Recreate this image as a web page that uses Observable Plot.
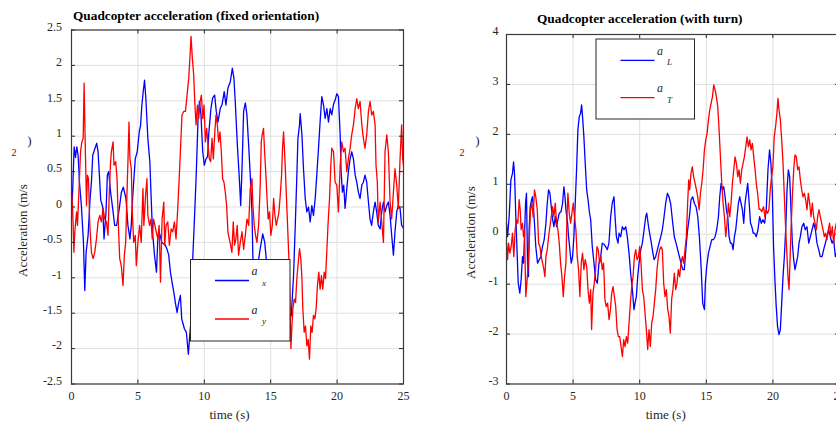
<!DOCTYPE html>
<html>
<head>
<meta charset="utf-8">
<script src="https://cdn.jsdelivr.net/npm/d3@7"></script>
<script src="https://cdn.jsdelivr.net/npm/@observablehq/plot@0.6"></script>
<style>
  html, body { margin: 0; padding: 0; background: #fff; }
  #wrap { position: relative; width: 836px; height: 423px; overflow: hidden; background: #fff; }
  #wrap svg { position: absolute; top: 0; overflow: visible; }
</style>
</head>
<body>
<div id="wrap"></div>
<script>
// ---------- Data (time s, acceleration m/s^2) ----------
const titles = ["Quadcopter acceleration (fixed orientation)", "Quadcopter acceleration (with turn)"];
const xLabel = "time (s)";
const yLabel = "Acceleration (m/s";
const xTicks = [0, 5, 10, 15, 20, 25];
const yTicksLeft = [-2.5, -2, -1.5, -1, -0.5, 0, 0.5, 1, 1.5, 2, 2.5];
const yTicksRight = [-3, -2, -1, 0, 1, 2, 3, 4];
const legendLeft = [{name: "a", sub: "x", color: "#0000ff"}, {name: "a", sub: "y", color: "#ff0000"}];
const legendRight = [{name: "a", sub: "L", color: "#0000ff"}, {name: "a", sub: "T", color: "#ff0000"}];

const ax = [[0,-0.17],[0.1,0.3],[0.2,0.85],[0.3,0.7],[0.4,0.85],[0.5,0.72],[0.6,0.35],[0.75,0],[0.9,-0.5],[1.0,-1.18],[1.1,-0.64],[1.25,-0.4],[1.4,0.12],[1.5,0.35],[1.6,0.73],[1.75,0.82],[1.9,0.9],[2.0,0.78],[2.1,0.45],[2.2,0.1],[2.35,0],[2.45,-0.45],[2.6,-0.07],[2.7,0.45],[2.8,0.5],[2.95,0.2],[3.1,-0.02],[3.25,-0.26],[3.4,-0.26],[3.6,-0.02],[3.75,0.2],[3.9,0.28],[4.1,0.12],[4.25,-0.26],[4.4,-0.45],[4.5,-0.26],[4.6,0.12],[4.8,0.68],[4.95,0.78],[5.1,1.06],[5.2,1.15],[5.3,1.44],[5.4,1.63],[5.5,1.79],[5.6,1.53],[5.75,0.97],[5.9,0.64],[6.0,0.12],[6.1,-0.35],[6.25,-0.68],[6.4,-0.92],[6.5,-0.45],[6.6,-0.35],[6.8,-0.5],[7.07,-0.54],[7.2,-0.6],[7.32,-0.68],[7.45,-0.92],[7.57,-1.06],[7.7,-1.2],[7.82,-1.35],[7.95,-1.49],[8.07,-1.35],[8.2,-1.25],[8.3,-1.58],[8.5,-1.72],[8.65,-1.77],[8.8,-2.08],[8.9,-1.82],[9.0,-1.6],[9.13,-0.73],[9.28,-0.07],[9.4,0.5],[9.53,1.25],[9.63,1.49],[9.75,1.3],[9.88,0.78],[10.0,0.59],[10.13,0.68],[10.25,0.71],[10.33,1.02],[10.5,1.39],[10.63,1.54],[10.78,1.58],[10.9,1.35],[11.03,1.2],[11.2,1.39],[11.33,1.44],[11.5,1.63],[11.63,1.44],[11.78,1.68],[11.96,1.77],[12.11,1.96],[12.23,1.82],[12.33,1.49],[12.49,0.87],[12.64,0.4],[12.74,0.02],[12.84,0.54],[12.96,1.35],[13.09,1.47],[13.21,1.3],[13.34,0.87],[13.46,0.45],[13.59,-0.07],[13.66,-0.73],[13.8,-1.0],[14.0,-0.85],[14.2,-0.6],[14.4,-0.38],[14.55,-0.5],[14.7,-0.8],[15.0,-1.2],[15.5,-1.5],[16.0,-1.7],[16.4,-1.6],[16.55,-1.53],[16.65,-1.2],[16.72,-0.97],[16.85,-0.26],[16.97,0.45],[17.05,0.97],[17.17,1.16],[17.22,1.32],[17.35,1.02],[17.47,0.54],[17.6,0.12],[17.72,-0.07],[17.85,0],[17.97,-0.21],[18.1,0.02],[18.22,-0.12],[18.35,0.12],[18.47,0.45],[18.6,0.83],[18.72,1.2],[18.85,1.56],[18.98,1.44],[19.1,1.25],[19.23,1.39],[19.35,1.2],[19.48,1.39],[19.6,1.3],[19.73,1.45],[19.85,1.51],[19.98,1.6],[20.1,1.56],[20.23,1.02],[20.3,0.5],[20.4,0.21],[20.5,0.31],[20.6,-0.02],[20.73,0.26],[20.85,0.5],[20.98,0.68],[21.1,0.78],[21.23,0.68],[21.36,0.45],[21.48,0.35],[21.6,0.21],[21.73,0.12],[21.86,0.31],[21.98,0.35],[22.1,0.45],[22.23,0.35],[22.36,0.07],[22.48,-0.17],[22.6,-0.26],[22.73,-0.07],[22.86,0.07],[22.98,-0.07],[23.1,-0.26],[23.24,-0.31],[23.36,-0.07],[23.49,0.07],[23.61,-0.07],[23.74,0.02],[23.86,0.07],[23.99,-0.12],[24.11,-0.4],[24.24,-0.68],[24.36,-0.35],[24.49,-0.07],[24.61,0.02],[24.74,-0.02],[24.86,-0.26],[25,-0.3]];

const ay = [[0,0.21],[0.08,0.02],[0.18,-0.64],[0.25,-0.35],[0.38,-0.07],[0.45,-0.26],[0.58,0.31],[0.68,0.78],[0.78,0.92],[0.88,0.97],[0.95,1.75],[1.03,0.92],[1.13,0.02],[1.2,0.45],[1.28,0.4],[1.38,-0.26],[1.5,-0.64],[1.63,-0.73],[1.75,-0.64],[1.88,-0.45],[2.0,-0.21],[2.13,-0.12],[2.25,-0.21],[2.38,-0.02],[2.5,-0.17],[2.63,-0.21],[2.75,-0.4],[2.83,0.12],[2.93,0.59],[3.0,0.78],[3.13,0.92],[3.2,0.59],[3.33,0.64],[3.43,0.4],[3.53,-0.26],[3.63,-0.73],[3.75,-0.83],[3.88,-1.11],[3.98,-0.68],[4.08,-0.5],[4.18,0.21],[4.25,0.64],[4.33,1.2],[4.4,0.68],[4.5,0.54],[4.58,-0.07],[4.68,-0.5],[4.8,-0.4],[4.88,-0.83],[5.0,-0.5],[5.13,-0.26],[5.25,-0.5],[5.38,0.26],[5.45,-0.26],[5.58,0.17],[5.68,0.4],[5.75,-0.12],[5.88,-0.26],[5.98,-0.17],[6.08,-0.45],[6.18,-0.17],[6.28,-0.26],[6.38,-0.35],[6.5,-0.45],[6.6,-0.26],[6.7,-1.06],[6.82,-0.17],[6.95,0.07],[7.02,-0.54],[7.12,-0.26],[7.25,-0.21],[7.37,-0.54],[7.5,-0.31],[7.62,-0.35],[7.75,-0.21],[7.87,-0.45],[8.0,-0.02],[8.12,0.45],[8.22,0.87],[8.32,1.3],[8.45,1.35],[8.58,1.35],[8.7,1.58],[8.83,1.82],[8.93,2.15],[9.0,2.41],[9.1,2.1],[9.2,1.87],[9.28,1.49],[9.38,1.16],[9.48,1.44],[9.58,1.25],[9.68,1.49],[9.78,1.58],[9.88,1.25],[9.98,1.44],[10.08,0.92],[10.18,1.11],[10.28,0.87],[10.38,0.68],[10.48,0.64],[10.58,0.97],[10.68,0.68],[10.78,1.02],[10.88,1.3],[10.98,1.16],[11.08,0.92],[11.18,1.06],[11.28,0.78],[11.38,0.4],[11.48,0.35],[11.58,0.21],[11.68,0.02],[11.78,-0.35],[11.88,-0.45],[11.98,-0.54],[12.08,-0.64],[12.18,-0.21],[12.28,-0.54],[12.38,-0.45],[12.48,-0.26],[12.58,-0.68],[12.71,-0.5],[12.84,-0.35],[12.96,-0.6],[13.09,-0.4],[13.21,-0.17],[13.34,-0.26],[13.46,0.26],[13.59,0.4],[13.66,0.02],[13.76,-0.26],[13.86,-0.4],[13.96,-0.5],[14.09,-0.26],[14.21,0.31],[14.29,0.92],[14.36,1.02],[14.46,1.11],[14.54,0.78],[14.64,0.45],[14.71,0.17],[14.81,-0.17],[14.91,-0.07],[15.01,-0.4],[15.12,-0.26],[15.22,0.12],[15.32,-0.12],[15.42,-0.26],[15.52,-0.17],[15.62,-0.07],[15.72,0.17],[15.82,0.45],[15.89,0.83],[15.97,1.06],[16.07,0.68],[16.17,0.21],[16.27,-0.26],[16.37,-0.73],[16.45,-1.3],[16.52,-2.0],[16.6,-1.68],[16.67,-1.44],[16.77,-1.3],[16.87,-1.35],[16.97,-1.01],[17.1,-0.73],[17.17,-0.59],[17.27,-0.73],[17.35,-1.01],[17.42,-1.44],[17.52,-1.77],[17.62,-1.68],[17.72,-1.96],[17.82,-1.87],[17.92,-2.15],[18.02,-1.68],[18.12,-1.77],[18.22,-1.53],[18.32,-1.58],[18.42,-1.44],[18.52,-1.11],[18.62,-0.92],[18.72,-1.16],[18.82,-0.97],[18.92,-1.16],[19.03,-0.92],[19.13,-1.01],[19.23,-0.6],[19.33,-0.2],[19.43,0.12],[19.53,0.6],[19.6,0.83],[19.73,0.78],[19.85,0.35],[19.98,0.31],[20.1,-0.07],[20.23,0.59],[20.35,0.92],[20.48,0.78],[20.6,0.83],[20.73,0.5],[20.85,0.68],[20.98,0.83],[21.1,1.02],[21.23,1.16],[21.36,1.39],[21.48,1.53],[21.6,1.39],[21.73,1.49],[21.86,1.16],[21.98,0.97],[22.1,0.83],[22.23,1.02],[22.36,1.35],[22.48,1.49],[22.61,1.3],[22.73,1.35],[22.86,1.16],[22.93,0.59],[23.03,0.35],[23.1,-0.21],[23.24,0.07],[23.36,-0.21],[23.49,-0.5],[23.61,0.78],[23.74,1.02],[23.86,0.78],[23.99,0.07],[24.11,-0.17],[24.24,0.21],[24.36,0.54],[24.49,0.31],[24.61,-0.02],[24.74,0.68],[24.86,1.16],[24.94,0.68],[25,0.59]];

const aL = [[0,0.22],[0.08,-0.05],[0.2,0.35],[0.33,1.09],[0.45,1.22],[0.53,1.45],[0.6,1.22],[0.7,0.35],[0.78,-0.25],[0.88,-0.98],[1.0,-1.18],[1.1,-0.91],[1.2,-0.45],[1.28,-0.58],[1.35,-0.05],[1.43,0.62],[1.5,0.82],[1.58,-0.58],[1.65,-0.85],[1.7,0.09],[1.78,0.55],[1.88,0.69],[1.95,0.75],[2.03,0.49],[2.1,0.22],[2.2,-0.25],[2.33,-0.58],[2.46,-0.51],[2.58,-0.45],[2.7,-0.25],[2.83,-0.11],[2.96,0.22],[3.06,0.62],[3.16,0.89],[3.26,0.82],[3.36,0.55],[3.46,0.29],[3.56,0.15],[3.66,0.35],[3.76,0.15],[3.86,0.29],[3.96,0.42],[4.09,0.45],[4.21,0.62],[4.31,0.95],[4.39,0.75],[4.46,0.49],[4.59,0.22],[4.66,-0.05],[4.76,-0.31],[4.86,-0.58],[4.96,-0.45],[5.06,-0.05],[5.16,0.62],[5.26,1.29],[5.36,2.09],[5.46,2.35],[5.56,2.42],[5.64,2.59],[5.71,2.35],[5.81,1.95],[5.91,1.42],[6.02,0.89],[6.12,0.69],[6.22,0.45],[6.32,0.29],[6.44,-0.25],[6.57,-0.58],[6.69,-0.91],[6.82,-0.98],[6.94,-0.58],[7.07,-0.45],[7.19,-0.18],[7.32,-0.2],[7.44,-0.25],[7.57,-0.31],[7.69,-0.18],[7.82,0.35],[7.94,0.62],[8.07,0.75],[8.15,0.35],[8.25,-0.05],[8.37,-0.18],[8.45,0.02],[8.57,-0.05],[8.7,0.15],[8.82,0.09],[8.95,0.15],[9.07,-0.05],[9.2,-0.38],[9.32,-0.78],[9.45,-1.11],[9.57,-1.51],[9.65,-1.38],[9.75,-1.25],[9.85,-0.85],[9.95,-0.58],[10.08,-0.31],[10.2,-0.18],[10.33,0.09],[10.45,0.35],[10.53,0.42],[10.63,0.22],[10.7,0.09],[10.83,-0.11],[10.95,-0.31],[11.08,-0.51],[11.2,-0.45],[11.33,-0.31],[11.45,-0.18],[11.58,-0.05],[11.7,0.09],[11.83,0.35],[11.95,0.62],[12.08,0.82],[12.2,0.75],[12.33,0.6],[12.48,0.22],[12.6,-0.05],[12.73,-0.18],[12.85,-0.31],[12.98,-0.45],[13.1,-0.58],[13.23,-0.71],[13.35,-0.71],[13.48,-0.25],[13.6,0.09],[13.73,0.35],[13.85,0.69],[13.98,0.75],[14.1,0.62],[14.23,0.55],[14.36,0.35],[14.48,-0.05],[14.61,-0.65],[14.73,-1.38],[14.86,-1.51],[14.93,-0.98],[15.03,-0.65],[15.16,-0.38],[15.28,-0.25],[15.41,-0.11],[15.53,-0.11],[15.66,-0.05],[15.78,0.09],[15.91,0.35],[16.01,0.75],[16.11,1.02],[16.21,0.89],[16.31,0.95],[16.41,0.75],[16.51,0.49],[16.61,0.35],[16.71,-0.05],[16.81,-0.18],[16.91,-0.18],[17.01,-0.31],[17.11,-0.05],[17.21,0.09],[17.31,0.35],[17.41,0.62],[17.51,0.75],[17.61,0.62],[17.71,0.49],[17.81,0.22],[17.91,0.62],[18.01,0.82],[18.11,1.02],[18.22,0.62],[18.32,0.22],[18.42,0.15],[18.52,0.02],[18.63,0.02],[18.75,-0.05],[18.88,0.09],[19.0,0.35],[19.13,0.22],[19.25,0.29],[19.38,0.22],[19.5,0.49],[19.63,1.29],[19.75,1.69],[19.85,1.42],[19.95,0.89],[20.05,-0.25],[20.15,-0.91],[20.25,-1.45],[20.35,-1.85],[20.46,-2.01],[20.56,-1.91],[20.66,-1.38],[20.76,-0.85],[20.86,-0.45],[20.96,0.09],[21.06,0.89],[21.16,1.29],[21.26,1.15],[21.36,0.49],[21.46,-0.18],[21.56,-0.51],[21.66,-0.71],[21.76,-0.58],[21.86,-0.45],[21.96,-0.18],[22.06,-0.05],[22.18,0.15],[22.31,0.22],[22.43,0.09],[22.56,0.15],[22.69,-0.18],[22.81,-0.05],[22.94,0.09],[23.06,0.22],[23.19,0.09],[23.31,-0.18],[23.44,-0.31],[23.56,-0.45],[23.69,-0.45],[23.81,-0.31],[23.94,-0.18],[24.06,-0.05],[24.19,0.09],[24.31,-0.05],[24.44,-0.18],[24.56,-0.11],[24.69,-0.45],[24.8,-0.35],[25,-0.3]];

const aT = [[0,-0.18],[0.08,-0.51],[0.15,-0.18],[0.25,-0.38],[0.35,-0.25],[0.45,0.02],[0.55,-0.45],[0.65,0.09],[0.75,0.29],[0.85,0.22],[0.95,0.69],[1.03,0.49],[1.1,0.09],[1.2,0.22],[1.28,-0.05],[1.35,0.09],[1.45,-1.25],[1.53,-0.98],[1.6,-0.71],[1.7,-0.18],[1.8,0.49],[1.9,0.62],[2.0,0.35],[2.1,0.89],[2.2,0.75],[2.31,0.49],[2.41,-0.18],[2.51,-0.25],[2.61,-0.45],[2.71,-0.58],[2.81,-0.71],[2.88,-0.85],[2.96,-0.45],[3.06,-0.31],[3.16,-0.05],[3.26,0.15],[3.36,0.35],[3.46,0.55],[3.56,0.35],[3.66,0.62],[3.76,0.22],[3.86,0.09],[3.96,-0.18],[4.06,-0.58],[4.16,-0.85],[4.26,-1.25],[4.36,-0.85],[4.46,-0.58],[4.54,0.35],[4.61,0.82],[4.71,0.42],[4.81,0.22],[4.91,0.42],[5.01,0.62],[5.11,0.35],[5.21,0.09],[5.31,-0.45],[5.41,-0.71],[5.51,-1.25],[5.61,-0.58],[5.71,-0.38],[5.81,-0.71],[5.91,-0.51],[6.02,-0.65],[6.12,-1.11],[6.22,-1.38],[6.32,-1.11],[6.39,-1.91],[6.49,-1.18],[6.59,-0.98],[6.69,-0.71],[6.79,-0.25],[6.89,-0.31],[6.99,-0.58],[7.09,-0.45],[7.19,-0.71],[7.29,-0.58],[7.39,-1.31],[7.49,-1.45],[7.59,-1.38],[7.7,-1.71],[7.8,-1.51],[7.9,-1.18],[8.0,-1.05],[8.1,-1.25],[8.2,-1.45],[8.3,-1.91],[8.4,-2.05],[8.5,-2.05],[8.6,-2.25],[8.7,-2.45],[8.8,-2.11],[8.9,-2.25],[9.0,-2.05],[9.1,-2.18],[9.2,-1.78],[9.3,-1.38],[9.4,-1.05],[9.5,-0.85],[9.6,-0.45],[9.7,-0.31],[9.8,-0.51],[9.9,-0.45],[10.0,-0.25],[10.1,-0.58],[10.2,-1.11],[10.3,-1.25],[10.4,-1.58],[10.5,-1.91],[10.6,-2.31],[10.7,-1.91],[10.8,-2.25],[10.9,-1.78],[11.0,-1.65],[11.1,-1.38],[11.2,-1.11],[11.3,-0.71],[11.4,-0.45],[11.5,-0.31],[11.6,-0.25],[11.7,-0.31],[11.8,-0.98],[11.9,-1.25],[12.0,-1.11],[12.1,-1.5],[12.2,-1.65],[12.3,-1.98],[12.4,-1.3],[12.5,-1.1],[12.6,-0.78],[12.7,-1.11],[12.8,-0.98],[12.9,-0.71],[13.0,-0.85],[13.1,-0.58],[13.2,-0.45],[13.3,-0.58],[13.4,-0.31],[13.5,-0.05],[13.6,0.62],[13.68,1.09],[13.75,0.89],[13.85,1.22],[13.95,1.35],[14.05,1.15],[14.16,1.02],[14.26,0.89],[14.36,0.75],[14.46,0.49],[14.56,0.82],[14.66,1.02],[14.76,1.29],[14.86,1.69],[14.96,1.89],[15.06,2.02],[15.16,2.29],[15.26,2.49],[15.36,2.62],[15.46,2.75],[15.56,2.99],[15.66,2.89],[15.76,2.75],[15.86,2.55],[15.96,2.09],[16.06,1.55],[16.16,1.02],[16.26,0.62],[16.36,0.35],[16.46,-0.05],[16.56,0.22],[16.66,0.62],[16.76,0.35],[16.86,0.62],[16.96,1.02],[17.06,1.29],[17.16,1.55],[17.26,1.42],[17.36,1.15],[17.46,1.29],[17.56,1.02],[17.66,1.29],[17.76,1.42],[17.86,1.55],[17.96,1.75],[18.06,1.95],[18.16,1.75],[18.26,1.89],[18.36,1.69],[18.46,1.82],[18.56,1.55],[18.66,1.3],[18.76,1.0],[18.86,0.8],[18.96,0.5],[19.06,0.5],[19.16,0.45],[19.3,0.55],[19.4,0.35],[19.5,0.49],[19.6,0.42],[19.7,0.49],[19.8,0.89],[19.9,1.15],[20.0,1.35],[20.1,1.95],[20.2,2.15],[20.3,2.42],[20.38,2.72],[20.46,2.49],[20.56,2.29],[20.66,1.89],[20.76,1.42],[20.86,0.75],[20.96,0.09],[21.06,-0.45],[21.13,-0.85],[21.21,-1.11],[21.28,-0.58],[21.36,0.09],[21.46,0.75],[21.56,1.29],[21.66,1.59],[21.76,1.55],[21.86,1.29],[21.96,1.35],[22.06,1.09],[22.16,0.89],[22.26,0.75],[22.36,0.82],[22.46,0.69],[22.56,0.49],[22.66,0.82],[22.76,0.62],[22.86,0.35],[22.96,0.62],[23.06,0.35],[23.16,0.22],[23.26,0.09],[23.36,0.35],[23.46,0.49],[23.56,0.35],[23.66,0.22],[23.76,0.09],[23.86,-0.05],[23.96,0.02],[24.06,-0.11],[24.16,0.09],[24.26,0.22],[24.36,-0.05],[24.46,0.15],[24.56,-0.18],[24.66,0.09],[24.76,0.22],[25,0.1]];

// ---------- Rendering ----------
const FONT = "'Liberation Serif', 'Times New Roman', serif";
const INK = "#262626";
const toRows = (arr) => arr.map(([t, v]) => ({t, v}));

function panel(cfg) {
  const W = cfg.width, H = 423;
  const innerH = H - cfg.mt - cfg.mb;
  const innerW = W - cfg.ml - cfg.mr;
  const svg = Plot.plot({
    width: W, height: H,
    marginLeft: cfg.ml, marginRight: cfg.mr, marginTop: cfg.mt, marginBottom: cfg.mb,
    style: {fontFamily: FONT, fontSize: "12px", color: INK, background: "transparent", overflow: "visible"},
    x: {domain: [0, 25]},
    y: {domain: cfg.yDomain},
    marks: [
      Plot.ruleX(xTicks, {x: d => d, stroke: "#dfdfdf", strokeWidth: 1}),
      Plot.ruleY(cfg.yTicks, {y: d => d, stroke: "#dfdfdf", strokeWidth: 1}),
      Plot.line(toRows(cfg.s1), {x: "t", y: "v", stroke: "#0000ff", strokeWidth: 1.3}),
      Plot.line(toRows(cfg.s2), {x: "t", y: "v", stroke: "#ff0000", strokeWidth: 1.3}),
      Plot.tickX(xTicks, {x: d => d, stroke: INK, insetTop: innerH - 4}),
      Plot.tickX(xTicks, {x: d => d, stroke: INK, insetBottom: innerH - 4}),
      Plot.tickY(cfg.yTicks, {y: d => d, stroke: INK, insetRight: innerW - 4}),
      Plot.tickY(cfg.yTicks, {y: d => d, stroke: INK, insetLeft: innerW - 4}),
      Plot.frame({stroke: "#3a3a3a", strokeWidth: 1.2}),
      Plot.axisX(xTicks, {tickSize: 0, tickPadding: 7, label: null, tickFormat: d => String(d), fontSize: 12}),
      Plot.axisY(cfg.yTicks, {tickSize: 0, tickPadding: cfg.ypad, dy: -3, label: null, tickFormat: d => String(d), fontSize: 12})
    ]
  });
  svg.style.left = cfg.left + "px";
  const s = d3.select(svg);
  // title
  s.append("text").attr("x", cfg.titleX).attr("y", cfg.titleY).attr("text-anchor", "start")
    .attr("font-family", FONT).attr("font-size", 13.3).attr("font-weight", "bold").attr("fill", "#000")
    .text(cfg.title);
  // x label
  s.append("text").attr("x", cfg.xlabX).attr("y", 418.5).attr("text-anchor", "middle")
    .attr("font-family", FONT).attr("font-size", 13).attr("fill", INK).text(xLabel);
  // y label (rotated main part, superscript and closing paren)
  s.append("text").attr("transform", `translate(${cfg.ylabX},${cfg.ylabY}) rotate(-90)`).attr("text-anchor", "start")
    .attr("font-family", FONT).attr("font-size", 13).attr("fill", INK).text(yLabel);
  s.append("text").attr("x", cfg.ylabX - 13).attr("y", 156).attr("text-anchor", "middle")
    .attr("font-family", FONT).attr("font-size", 10).attr("fill", INK).text("2");
  s.append("text").attr("x", cfg.ylabX + 2.5).attr("y", 145).attr("text-anchor", "middle")
    .attr("font-family", FONT).attr("font-size", 13).attr("fill", INK).text(")");
  // legend
  const L = cfg.legend;
  const g = s.append("g");
  g.append("rect").attr("x", L.x).attr("y", L.y).attr("width", L.w).attr("height", L.h)
    .attr("fill", "#fff").attr("stroke", "#262626").attr("stroke-width", 1);
  cfg.legendItems.forEach((it, i) => {
    const ly = L.y + L.row0 + i * L.step;
    g.append("line").attr("x1", L.x + 24.5).attr("x2", L.x + 58.5).attr("y1", ly).attr("y2", ly)
      .attr("stroke", it.color).attr("stroke-width", 1.3);
    g.append("text").attr("x", L.x + 64).attr("y", ly - 5.5).attr("text-anchor", "middle")
      .attr("font-family", FONT).attr("font-style", "italic").attr("font-size", 12).attr("fill", INK).text(it.name);
    g.append("text").attr("x", L.x + 73.5).attr("y", ly + 5).attr("text-anchor", "middle")
      .attr("font-family", FONT).attr("font-style", "italic").attr("font-size", 9).attr("fill", INK).text(it.sub);
  });
  document.getElementById("wrap").appendChild(svg);
}

panel({
  left: 0, width: 420, ml: 71, mr: 17, mt: 29.5, mb: 39.5, ypad: 9.5,
  yDomain: [-2.5, 2.5], yTicks: yTicksLeft, s1: ax, s2: ay,
  title: titles[0], titleX: 73, titleY: 19.5, xlabX: 229.5, ylabX: 27, ylabY: 277,
  legend: {x: 190.5, y: 259.5, w: 99.5, h: 81.5, row0: 21, step: 38.5},
  legendItems: legendLeft
});
panel({
  left: 420, width: 420, ml: 86, mr: 1, mt: 34, mb: 39.5, ypad: 8,
  yDomain: [-3, 4], yTicks: yTicksRight, s1: aL, s2: aT,
  title: titles[1], titleX: 117, titleY: 22.5, xlabX: 245.7, ylabX: 55, ylabY: 279,
  legend: {x: 176, y: 39, w: 98.5, h: 80, row0: 21.3, step: 37.4},
  legendItems: legendRight
});
</script>
</body>
</html>
